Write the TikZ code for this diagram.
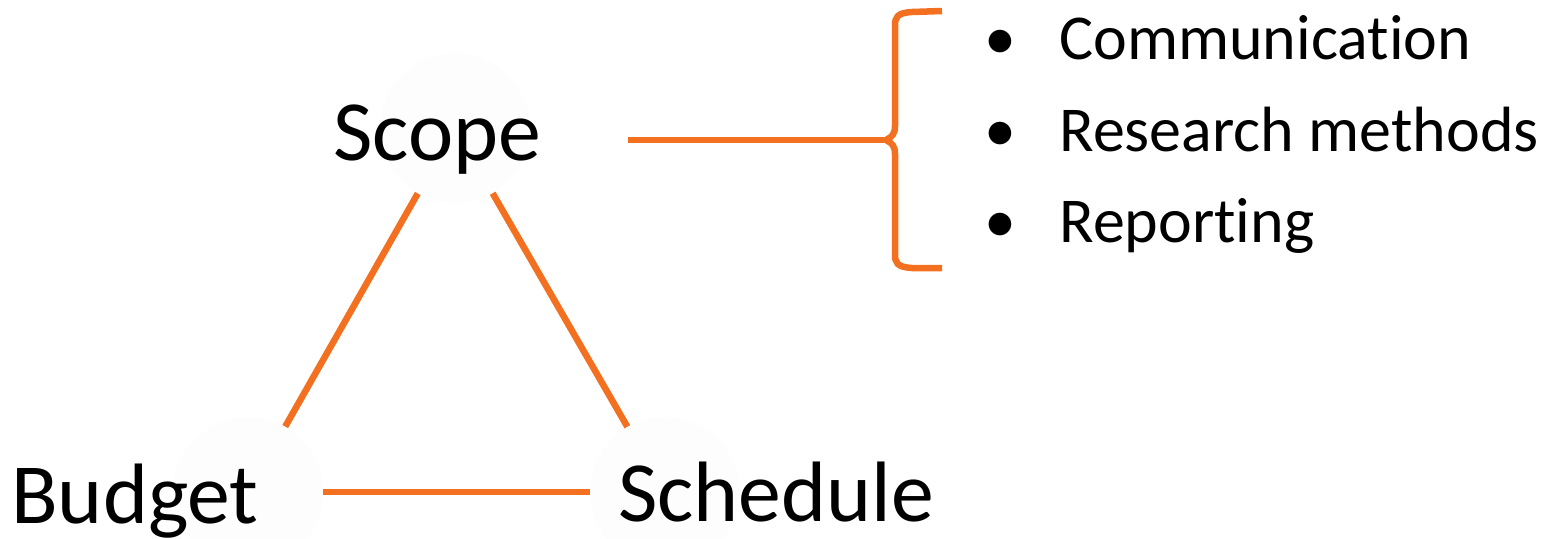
\documentclass[tikz,border=0pt]{standalone}
\usepackage{fontspec}
\setmainfont{Carlito}[Ligatures=NoCommon]
\definecolor{triorange}{HTML}{F37021}
\usetikzlibrary{positioning}

\begin{document}
\begin{tikzpicture}[x=0.02cm,y=-0.02cm,
    corner/.style={circle,fill=black!0.8,minimum size=3cm,inner sep=0pt},
    label/.style={anchor=base west,inner sep=0pt,font=\fontsize{48.8pt}{58pt}\selectfont},
    item/.style={anchor=base west,inner sep=0pt,font=\fontsize{36.4pt}{44pt}\selectfont},
    dot/.style={anchor=base,inner sep=0pt,font=\fontsize{36.4pt}{44pt}\selectfont},
    link/.style={triorange,line width=3.7pt}]
      \useasboundingbox (0,0) rectangle (1552,538);
      % faint circles behind the three corners
      \node[corner] (scope) at (455,128) {};
      \node[corner] (budget) at (248,492) {};
      \node[corner] (schedule) at (665,492) {};
      \node[label] (T1) at (333,160) {Scope};
      \node[label] (T2) at (11,523) {Budget};
      \node[label] (T3) at (618,521) {Schedule};
      \draw[link] (scope) -- (budget);
      \draw[link] (scope) -- (schedule);
      \draw[link] (budget) -- (schedule);
      % brace with the list
      \coordinate (S1) at (628,140);
      \coordinate (tip) at (886,140);
      \draw[link] (S1) -- (tip);
      \draw[link,line cap=butt] (942,11) -- (912,12) .. controls (897,13) and (895,17) .. (895,26)
        -- (895,126) .. controls (895,134) and (892,137) .. (tip)
        .. controls (892,143) and (895,146) .. (895,154)
        -- (895,254) .. controls (895,263) and (897,267) .. (912,268) -- (942,268);
      \node[dot] (D1) at (1000,59) {•};
      \node[dot] (D2) at (1000,151) {•};
      \node[dot] (D3) at (1000,242) {•};
      \node[item] (L1) at (1059,59) {Communication};
      \node[item] (L2) at (1059,151) {Research methods};
      \node[item] (L3) at (1059,242) {Reporting};
    \end{tikzpicture}
\end{document}
